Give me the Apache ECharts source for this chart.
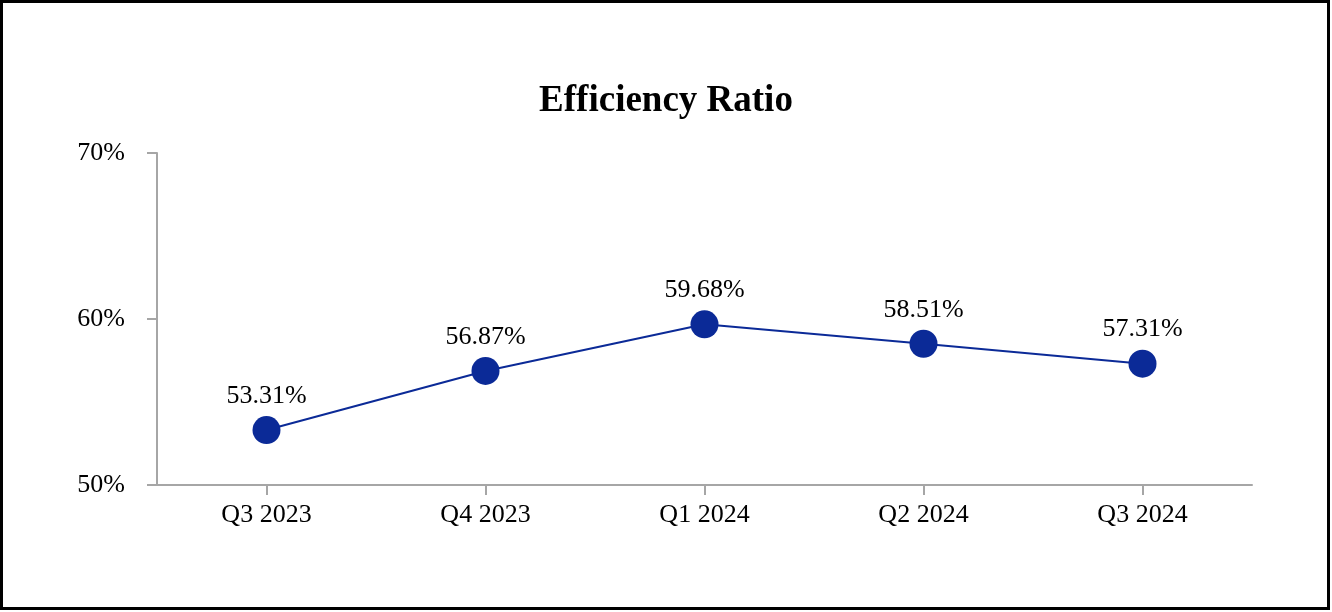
<!DOCTYPE html>
<html>
<head>
<meta charset="utf-8">
<script src="https://cdn.jsdelivr.net/npm/echarts@6/dist/echarts.min.js"></script>
<style>
html,body{margin:0;padding:0;background:#fff;}
#chart{width:1332px;height:612px;}
</style>
</head>
<body>
<div id="chart"></div>
<script>
const categories = ['Q3 2023', 'Q4 2023', 'Q1 2024', 'Q2 2024', 'Q3 2024'];
const efficiency = [53.31, 56.87, 59.68, 58.51, 57.31];
const yTicks = { min: 50, max: 70, interval: 10 };

const font = '"Liberation Serif", "DejaVu Serif", serif';
const chart = echarts.init(document.getElementById('chart'));
chart.setOption({
  animation: false,
  backgroundColor: '#fff',
  title: {
    text: 'Efficiency Ratio',
    left: 'center',
    top: 78,
    textStyle: { fontFamily: font, fontWeight: 'bold', fontSize: 37, color: '#000' }
  },
  grid: { left: 157, right: 80, top: 153, bottom: 127 },
  xAxis: {
    type: 'category',
    data: categories,
    boundaryGap: true,
    axisLine: { show: true, lineStyle: { color: '#a6a6a6', width: 2 } },
    axisTick: { show: true, alignWithLabel: true, length: 10, lineStyle: { color: '#a6a6a6', width: 2 } },
    axisLabel: { fontFamily: font, fontSize: 26, color: '#000', margin: 17 }
  },
  yAxis: {
    type: 'value',
    min: yTicks.min,
    max: yTicks.max,
    interval: yTicks.interval,
    axisLine: { show: true, lineStyle: { color: '#a6a6a6', width: 2 } },
    axisTick: { show: true, length: 10, lineStyle: { color: '#a6a6a6', width: 2 } },
    splitLine: { show: false },
    axisLabel: { fontFamily: font, fontSize: 26, color: '#000', margin: 32, formatter: '{value}%' }
  },
  series: [{
    type: 'line',
    data: efficiency,
    symbol: 'circle',
    symbolSize: 28,
    itemStyle: { color: '#0b2a97' },
    lineStyle: { color: '#0b2a97', width: 2 },
    label: {
      show: true,
      position: 'top',
      distance: 7,
      fontFamily: font,
      fontSize: 26,
      color: '#000',
      formatter: p => p.value.toFixed(2) + '%'
    }
  }],
  graphic: [{
    type: 'rect',
    shape: { x: 1.5, y: 1.5, width: 1327, height: 607 },
    style: { fill: 'none', stroke: '#000', lineWidth: 3 },
    silent: true,
    z: 100
  }]
});
</script>
</body>
</html>
